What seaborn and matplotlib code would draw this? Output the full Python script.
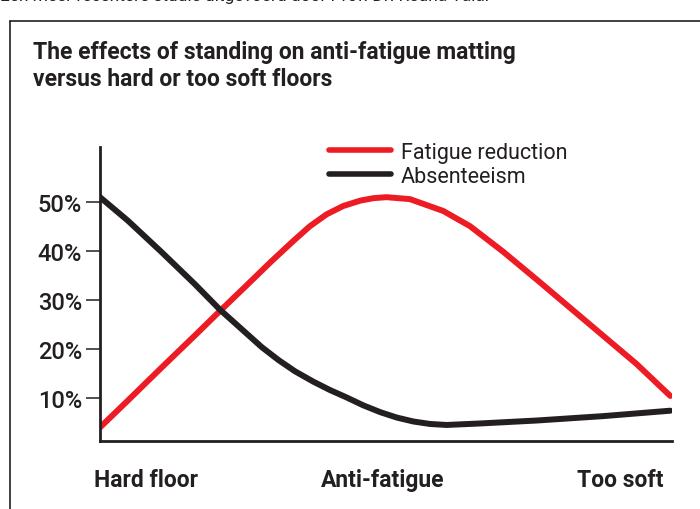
import numpy as np
import pandas as pd
import seaborn as sns
import matplotlib.pyplot as plt
from matplotlib.lines import Line2D

# values (x: 0 = hard floor, 100 = too soft)
fatigue_x = [0, 4.9, 10.8, 16.6, 21.0, 25.3, 30.0, 33.8, 36.7, 39.6, 42.5, 45.5, 47.8, 50.1,
             54.2, 60.0, 64.7, 70.5, 76.3, 82.2, 88.0, 93.8, 99.7]
fatigue_y = [4.1, 9.6, 16.3, 22.8, 27.8, 32.6, 37.9, 42.0, 45.0, 47.4, 49.1, 50.2, 50.7, 50.9,
             50.5, 48.1, 45.0, 39.8, 34.2, 28.4, 22.7, 17.0, 10.5]
absent_x = [0, 4.9, 10.8, 16.6, 21.0, 28.3, 31.2, 34.1, 37.3, 40.2, 43.1, 46.0, 49.0, 51.9,
            54.8, 57.7, 60.6, 66.4, 76.3, 88.0, 99.7]
absent_y = [50.9, 46.1, 39.7, 33.2, 28.0, 20.4, 17.8, 15.5, 13.4, 11.7, 10.2, 8.6, 7.2, 6.1,
            5.3, 4.8, 4.6, 4.9, 5.5, 6.4, 7.5]
series = ['Fatigue reduction', 'Absenteeism']
x_labels = ['Hard floor', 'Anti-fatigue', 'Too soft']
x_label_pos = [8, 49.5, 91]
y_ticks = [10, 20, 30, 40, 50]

ink = '#231f20'
red = '#ed1c24'

df = pd.concat([
    pd.DataFrame({'x': fatigue_x, 'y': fatigue_y, 'series': series[0]}),
    pd.DataFrame({'x': absent_x, 'y': absent_y, 'series': series[1]}),
])

sns.set_theme(style='white')
plt.rcParams['font.family'] = ['Roboto', 'DejaVu Sans']

fig = plt.figure(figsize=(7, 5.1), dpi=100)
ax = fig.add_axes([100 / 700, 1 - 441.7 / 510, 572 / 700, (441.7 - 148) / 510])

sns.lineplot(data=df, x='x', y='y', hue='series', palette=[red, ink],
             linewidth=4.3, sort=False, legend=False, ax=ax,
             solid_capstyle='round', solid_joinstyle='round')

ax.set_xlim(0, 100)
ax.set_ylim(1.4, 61.1)
sns.despine(ax=ax)
for s in ['left', 'bottom']:
    ax.spines[s].set_color(ink)
    ax.spines[s].set_linewidth(2)

ax.set_yticks(y_ticks)
ax.set_yticklabels([f'{v}%' for v in y_ticks], fontsize=17, fontweight='medium', color=ink)
ax.tick_params(axis='y', left=True, length=10, width=1.1, color=ink, pad=3)
ax.set_xticks(x_label_pos)
ax.set_xticklabels(x_labels, fontsize=16.5, fontweight='bold', color=ink)
ax.tick_params(axis='x', bottom=False, pad=14)
ax.set_xlabel('')
ax.set_ylabel('')

handles = [Line2D([], [], color=red, lw=4, solid_capstyle='round'),
           Line2D([], [], color=ink, lw=4, solid_capstyle='round')]
fig.legend(handles, series, loc='upper left', bbox_to_anchor=(318 / 700, 1 - 132 / 510),
           frameon=False, fontsize=15.5, handlelength=2.9, handletextpad=0.45,
           labelspacing=0.15, borderpad=0, labelcolor=ink)

fig.text(33 / 700, 1 - 52 / 510, 'The effects of standing on anti-fatigue matting',
         fontsize=16.5, fontweight='bold', color=ink, va='center')
fig.text(33 / 700, 1 - 79 / 510, 'versus hard or too soft floors',
         fontsize=16.5, fontweight='bold', color=ink, va='center')
fig.text(0, 1 + 4 / 510, 'Een meer recentere studie uitgevoerd door Prof. Dr. Redha Taiar',
         fontsize=12.5, color=ink, va='center')

fig.add_artist(Line2D([10 / 700, 10 / 700], [0, 1 - 22 / 510], color=ink, lw=1.2))
fig.add_artist(Line2D([10 / 700, 1], [1 - 22 / 510, 1 - 22 / 510], color=ink, lw=1.2))

fig.savefig('out.png', dpi=100)
